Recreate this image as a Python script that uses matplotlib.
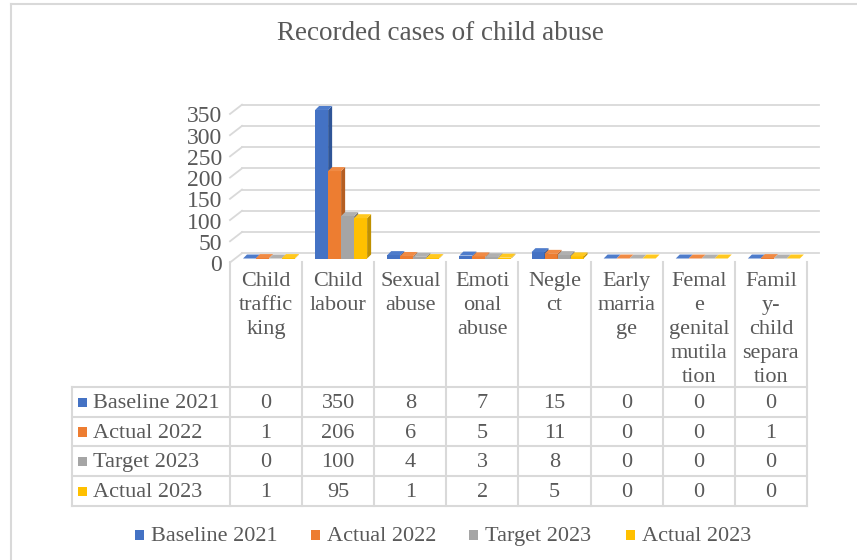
import matplotlib
matplotlib.use("Agg")
import matplotlib.pyplot as plt
from matplotlib.patches import Polygon, Rectangle
from matplotlib.lines import Line2D

# ---------------- data ----------------
title = "Recorded cases of child abuse"
categories = ["Child trafficking", "Child labour", "Sexual abuse", "Emotional abuse",
              "Neglect", "Early marriage", "Female genital mutilation",
              "Family-child separation"]
category_label_lines = [["Child", "traffic", "king"], ["Child", "labour"],
                        ["Sexual", "abuse"], ["Emoti", "onal", "abuse"],
                        ["Negle", "ct"], ["Early", "marria", "ge"],
                        ["Femal", "e", "genital", "mutila", "tion"],
                        ["Famil", "y-", "child", "separa", "tion"]]
series_names = ["Baseline 2021", "Actual 2022", "Target 2023", "Actual 2023"]
baseline_2021 = [0, 350, 8, 7, 15, 0, 0, 0]
actual_2022 = [1, 206, 6, 5, 11, 0, 0, 1]
target_2023 = [0, 100, 4, 3, 8, 0, 0, 0]
actual_2023 = [1, 95, 1, 2, 5, 0, 0, 0]
y_ticks = [0, 50, 100, 150, 200, 250, 300, 350]

series_values = [baseline_2021, actual_2022, target_2023, actual_2023]
front_colors = ["#4472C4", "#ED7D31", "#A5A5A5", "#FFC000"]
side_colors = ["#2F5597", "#B55E22", "#7B7B7B", "#BF9000"]
top_colors = ["#4E7CCB", "#F08A44", "#B0B0B0", "#FFC81F"]

FONT = "Liberation Serif"
TXT = "#595959"
GRID = "#D9D9D9"
FS = 16
DY = 1.5  # visual centring offset for text (px)

W, H = 857, 560
fig = plt.figure(figsize=(W / 100, H / 100), dpi=100)

# overlay axes in pixel coordinates for title, table, legend, frame
lay = fig.add_axes([0, 0, 1, 1])
lay.set_xlim(0, W)
lay.set_ylim(H, 0)
lay.axis("off")
lay.set_zorder(0)

# chart frame (left and top visible)
lay.plot([11, 11], [4, H], color=GRID, lw=1.5)
lay.plot([11, W], [4, 4], color=GRID, lw=1.5)

lay.text(440, 34, title, ha="center", va="center", fontsize=19.5,
         family=FONT, color=TXT)

# ---------------- chart axes ----------------
px_left, px_right = 230, 807
px_top, px_bot = 95, 263
base_px = 259
n = len(categories)
kx = (px_right - px_left) / n          # px per category
ky = (base_px - 110) / 350.0           # px per value unit
ax = fig.add_axes([px_left / W, 1 - px_bot / H, (px_right - px_left) / W,
                   (px_bot - px_top) / H])
ax.set_zorder(2)
ax.patch.set_alpha(0)
ax.set_xlim(0, n)
ax.set_ylim(-(px_bot - base_px) / ky, (base_px - px_top) / ky)
for s in ax.spines.values():
    s.set_visible(False)
ax.set_xticks([])

# back-wall gridlines with left depth diagonal
back_dx = 12 / kx
back_dy = 5.3 / ky
front_dy = 4 / ky
for v in y_ticks:
    ax.add_line(Line2D([back_dx, n + back_dx], [v + back_dy, v + back_dy],
                       color=GRID, lw=1.3, zorder=1, clip_on=False))
    ax.add_line(Line2D([0, back_dx], [v - front_dy, v + back_dy],
                       color=GRID, lw=1.3, zorder=1, clip_on=False))

ax.set_yticks([v - 4.5 / ky for v in y_ticks])
ax.set_yticklabels([str(v) for v in y_ticks])
ax.tick_params(axis="y", length=0, pad=5.8, labelsize=17, labelcolor=TXT)
for lab in ax.get_yticklabels():
    lab.set_family(FONT)

# 3D-looking bars
bw = 13 / kx
ddx = 4 / kx
ddy = 4 / ky
start = 13 / kx
z = 3
for i in range(n):
    for j, vals in enumerate(series_values):
        x0 = i + start + j * bw
        h = vals[i]
        ax.bar([x0], [h], width=bw, align="edge", color=front_colors[j],
               linewidth=0, zorder=z)
        ax.add_patch(Polygon([(x0 + bw, 0), (x0 + bw + ddx, ddy),
                              (x0 + bw + ddx, h + ddy), (x0 + bw, h)],
                             closed=True, facecolor=side_colors[j],
                             edgecolor="none", zorder=z))
        ax.add_patch(Polygon([(x0, h), (x0 + ddx, h + ddy),
                              (x0 + bw + ddx, h + ddy), (x0 + bw, h)],
                             closed=True, facecolor=top_colors[j],
                             edgecolor="none", zorder=z))
        z += 1

# ---------------- data table ----------------
col_edges = [px_left + kx * i for i in range(n + 1)]
row_edges = [387, 417, 446, 476, 506]
tab_left = 72
head_top = 262

for xe in col_edges:
    lay.plot([xe, xe], [head_top, row_edges[-1]], color=GRID, lw=1.5)
lay.plot([tab_left, tab_left], [row_edges[0], row_edges[-1]], color=GRID, lw=1.5)
for ye in row_edges:
    lay.plot([tab_left, col_edges[-1]], [ye, ye], color=GRID, lw=1.5)

for i, lines in enumerate(category_label_lines):
    cx = (col_edges[i] + col_edges[i + 1]) / 2
    for k, line in enumerate(lines):
        lay.text(cx, 280 + 24 * k + DY, line, ha="center", va="center",
                 fontsize=FS, family=FONT, color=TXT)

for r, (name, vals) in enumerate(zip(series_names, series_values)):
    cy = (row_edges[r] + row_edges[r + 1]) / 2
    lay.add_patch(Rectangle((78, cy - 4.5), 9.5, 9.5, facecolor=front_colors[r],
                            edgecolor="none"))
    lay.text(93, cy + DY, name, ha="left", va="center", fontsize=FS,
             family=FONT, color=TXT)
    for i in range(n):
        cx = (col_edges[i] + col_edges[i + 1]) / 2
        lay.text(cx, cy + DY, str(vals[i]), ha="center", va="center",
                 fontsize=FS, family=FONT, color=TXT)

# ---------------- legend ----------------
leg_text_x = [151, 327, 485, 642]
leg_y = 535
for name, col, tx in zip(series_names, front_colors, leg_text_x):
    lay.add_patch(Rectangle((tx - 16, leg_y - 5), 9.5, 9.5, facecolor=col,
                            edgecolor="none"))
    lay.text(tx, leg_y + DY, name, ha="left", va="center", fontsize=FS,
             family=FONT, color=TXT)

fig.savefig("out.png", dpi=100)
